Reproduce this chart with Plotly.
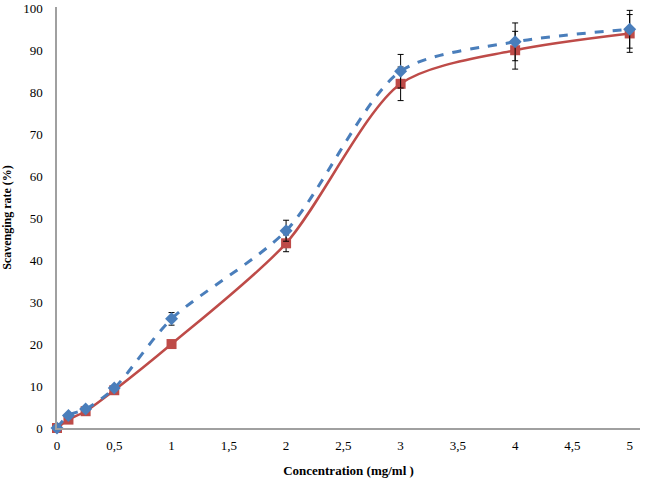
import plotly.graph_objects as go

conc = [0, 0.1, 0.25, 0.5, 1, 2, 3, 4, 5]
red_vals = [0, 2, 4, 9, 20, 44, 82, 90, 94]
red_err = [0, 0, 0, 0, 0, 2, 4, 4.5, 4.5]
blue_vals = [0, 3, 4.5, 9.5, 26, 47, 85, 92, 95]
blue_err = [0, 0, 0, 0, 1.5, 2.5, 4, 4.5, 4.5]
x_ticks = [0, 0.5, 1, 1.5, 2, 2.5, 3, 3.5, 4, 4.5, 5]
x_labels = ["0", "0,5", "1", "1,5", "2", "2,5", "3", "3,5", "4", "4,5", "5"]
y_ticks = list(range(0, 101, 10))

fig = go.Figure()
fig.add_trace(go.Scatter(
    x=conc, y=red_vals, mode="lines+markers",
    line=dict(color="#be4b48", width=2.5, shape="spline", smoothing=0.8),
    marker=dict(symbol="square", size=10, color="#be4b48"),
    error_y=dict(type="data", array=red_err, visible=True, color="black", thickness=1, width=3),
    showlegend=False, cliponaxis=False))
fig.add_trace(go.Scatter(
    x=conc, y=blue_vals, mode="lines+markers",
    line=dict(color="#4a7ebb", width=3, dash="dash", shape="spline", smoothing=0.8),
    marker=dict(symbol="diamond", size=10, color="#4a7ebb"),
    error_y=dict(type="data", array=blue_err, visible=True, color="black", thickness=1, width=3),
    showlegend=False, cliponaxis=False))

fig.update_layout(
    width=650, height=478,
    margin=dict(l=57, r=10, t=7, b=50),
    plot_bgcolor="white", paper_bgcolor="white",
    font=dict(family="Liberation Serif", size=13, color="black"),
    xaxis=dict(range=[0, 5.09], tickvals=x_ticks, ticktext=x_labels, automargin=False,
               showgrid=False, zeroline=False, showline=True, linecolor="#a0a0a0", linewidth=1.5,
               ticks="", tickfont=dict(size=13), ticklabelstandoff=5,
               title=dict(text="<b>Concentration (mg/ml )</b>", font=dict(size=13), standoff=14)),
    yaxis=dict(range=[0, 100.3], tickvals=y_ticks, automargin=False,
               showgrid=False, zeroline=False, showline=True, linecolor="#a0a0a0", linewidth=1.5,
               ticks="", tickfont=dict(size=13), ticklabelstandoff=10,
               title=dict(text="<b>Scavenging rate (%)</b>", font=dict(size=12), standoff=16)),
)

fig.write_html("out.html", config={"displayModeBar": False},
               post_script="document.body.style.margin='0';document.body.style.overflow='hidden';")
